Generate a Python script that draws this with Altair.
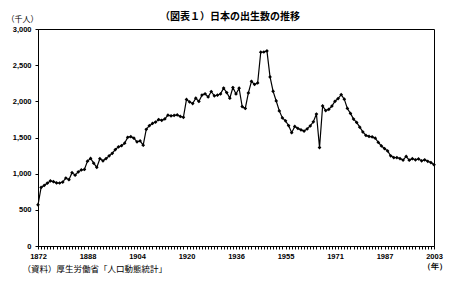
import altair as alt
import pandas as pd

years = [
    1872, 1873, 1874, 1875, 1876, 1877, 1878, 1879, 1880, 1881,
    1882, 1883, 1884, 1885, 1886, 1887, 1888, 1889, 1890, 1891,
    1892, 1893, 1894, 1895, 1896, 1897, 1898, 1899, 1900, 1901,
    1902, 1903, 1904, 1905, 1906, 1907, 1908, 1909, 1910, 1911,
    1912, 1913, 1914, 1915, 1916, 1917, 1918, 1919, 1920, 1921,
    1922, 1923, 1924, 1925, 1926, 1927, 1928, 1929, 1930, 1931,
    1932, 1933, 1934, 1935, 1936, 1937, 1938, 1939, 1940, 1941,
    1942, 1943,
    1947, 1948, 1949, 1950, 1951, 1952, 1953, 1954, 1955, 1956,
    1957, 1958, 1959, 1960, 1961, 1962, 1963, 1964, 1965, 1966,
    1967, 1968, 1969, 1970, 1971, 1972, 1973, 1974, 1975, 1976,
    1977, 1978, 1979, 1980, 1981, 1982, 1983, 1984, 1985, 1986,
    1987, 1988, 1989, 1990, 1991, 1992, 1993, 1994, 1995, 1996,
    1997, 1998, 1999, 2000, 2001, 2002, 2003,
]

births = [
    569, 809, 838, 869, 900, 889, 872, 871, 884, 940,
    917, 1014, 979, 1024, 1051, 1058, 1173, 1210, 1145, 1087,
    1207, 1178, 1209, 1246, 1282, 1334, 1370, 1387, 1421, 1502,
    1511, 1490, 1440, 1453, 1394, 1614, 1663, 1694, 1713, 1748,
    1738, 1757, 1808, 1799, 1805, 1812, 1792, 1779, 2026, 1991,
    1969, 2043, 1998, 2086, 2104, 2060, 2136, 2077, 2085, 2103,
    2183, 2121, 2044, 2191, 2102, 2181, 1928, 1902, 2116, 2277,
    2234, 2254,
    2679, 2682, 2697, 2338, 2138, 2005, 1868, 1770, 1731, 1665,
    1567, 1653, 1626, 1606, 1589, 1619, 1660, 1717, 1824, 1361,
    1936, 1872, 1890, 1934, 2001, 2039, 2092, 2030, 1901, 1833,
    1755, 1709, 1643, 1577, 1529, 1515, 1509, 1490, 1432, 1383,
    1347, 1314, 1247, 1222, 1223, 1209, 1188, 1238, 1187, 1207,
    1192, 1203, 1178, 1191, 1171, 1154, 1124,
]

label_years = [1872, 1888, 1904, 1920, 1936, 1955, 1971, 1987, 2003]
y_ticks = [0, 500, 1000, 1500, 2000, 2500, 3000]

title_text = "（図表１）日本の出生数の推移"
unit_text = "（千人）"
source_text = "（資料）厚生労働省「人口動態統計」"
year_unit = "（年）"

df = pd.DataFrame({"year": years, "births": births})

label_expr = (
    "datum.value == 2003 ? ['2003', '" + year_unit + "'] : "
    "(indexof(" + str(label_years) + ", datum.value) >= 0 ? datum.label : '')"
)

jp = "Noto Sans CJK JP"
num_font = "Liberation Sans"

base = alt.Chart(df).encode(
    x=alt.X(
        "year:O",
        scale=alt.Scale(type="point", padding=0),
        axis=alt.Axis(
            labelExpr=label_expr,
            labelAngle=0,
            labelOverlap=False,
            labelFont=num_font,
            labelFontSize=7.5,
            labelFontWeight="bold",
            labelColor="black",
            labelPadding=3,
            labelLineHeight=10,
            tickSize=3,
            tickColor="black",
            domainColor="black",
            grid=False,
            title=source_text,
            titleFont=jp,
            titleFontSize=8.5,
            titleFontWeight="normal",
            titleColor="black",
            titleX=-16,
            titleY=22,
            titleAlign="left",
            titleBaseline="middle",
        ),
    ),
    y=alt.Y(
        "births:Q",
        scale=alt.Scale(domain=[0, 3000], nice=False),
        axis=alt.Axis(
            values=y_ticks,
            format=",.0f",
            labelFont=num_font,
            labelFontSize=7.5,
            labelFontWeight="bold",
            labelColor="black",
            labelPadding=4,
            tickSize=3,
            tickColor="black",
            domainColor="black",
            grid=False,
            title=unit_text,
            titleFont=jp,
            titleFontSize=8,
            titleFontWeight="normal",
            titleColor="black",
            titleAngle=0,
            titleX=-16,
            titleY=-10,
            titleAlign="center",
            titleBaseline="middle",
        ),
    ),
)

line = base.mark_line(color="black", strokeWidth=1.2)
pts = base.mark_point(shape="diamond", filled=True, size=14, color="black", opacity=1)

chart = (
    (line + pts)
    .properties(
        width=396,
        height=217,
        autosize="none",
        padding={"left": 38, "top": 29, "right": 26, "bottom": 42},
        title=alt.TitleParams(
            text=title_text,
            font=jp,
            fontSize=10,
            fontWeight="bold",
            color="black",
            anchor="middle",
            offset=8,
            dx=-6,
            dy=15,
        ),
    )
    .configure_view(stroke="black", strokeWidth=1)
)

chart.save("out.html", embed_options={"renderer": "svg", "actions": False})
